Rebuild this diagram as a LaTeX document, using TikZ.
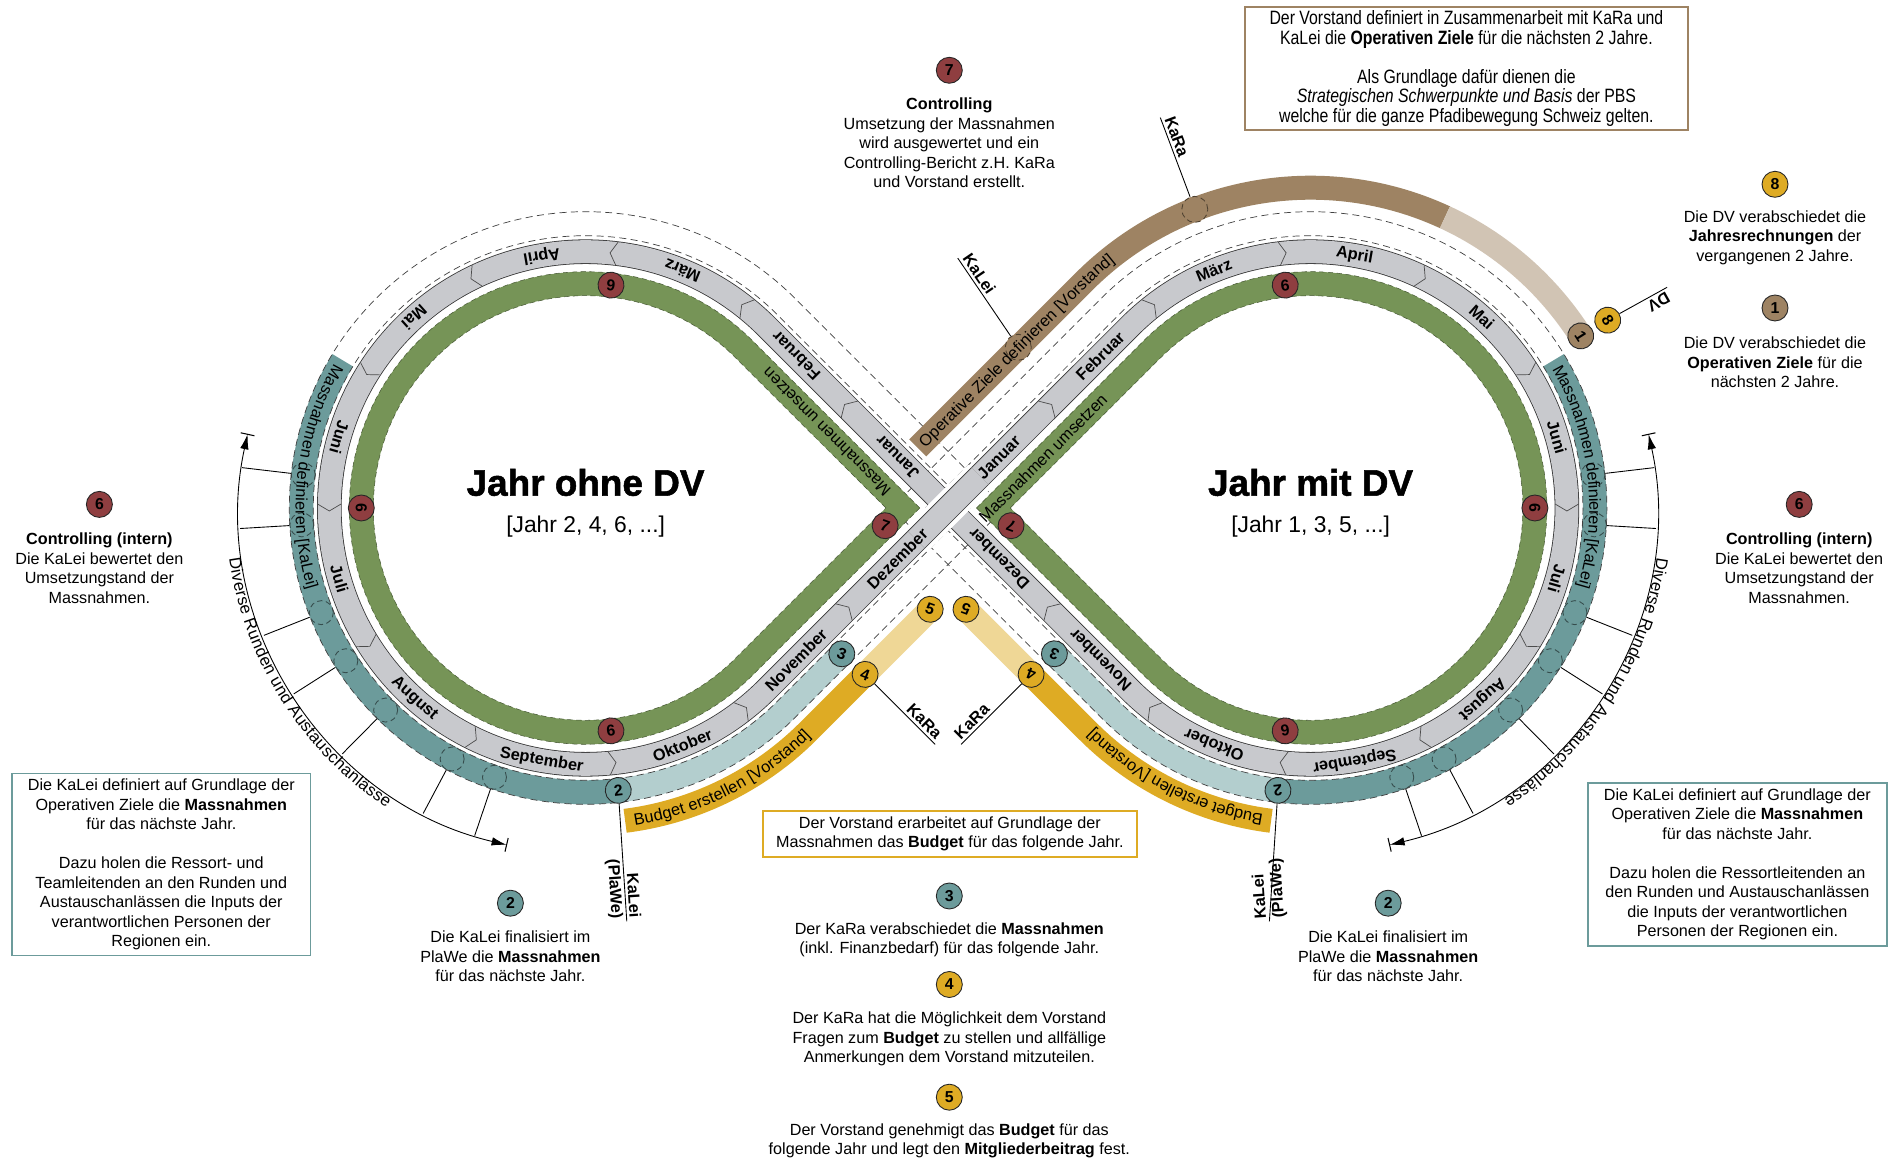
\documentclass[tikz,border=0pt]{standalone}
\usepackage{fontspec}
\setmainfont{Liberation Sans}
\newfontfamily\narrowfont[FakeStretch=0.82]{Liberation Sans}
\newfontfamily\titlefont[BoldFeatures={FakeBold=1.4}]{Liberation Sans}
\usetikzlibrary{calc,decorations.text,arrows.meta}
\definecolor{mred}{RGB}{143,62,64}
\definecolor{mgreen}{RGB}{118,148,87}
\definecolor{mgray}{RGB}{200,201,205}
\definecolor{mteal}{RGB}{108,155,155}
\definecolor{lteal}{RGB}{179,206,206}
\definecolor{mbrown}{RGB}{158,131,99}
\definecolor{lbrown}{RGB}{209,196,180}
\definecolor{myellow}{RGB}{222,171,36}
\definecolor{lyellow}{RGB}{239,215,150}
\newcommand{\bandfont}{\fontsize{9.3}{9.3}\selectfont}
\newcommand{\tearL}[2]{%
  \pgfmathsetmacro\tdR{256.3+(#1)}%
  \pgfmathsetmacro\tdV{948.1+1.414214*(#1)}%
  \draw[#2] (\tdV,652) -- ($(585.6,652)+(45:\tdR)$) arc[start angle=45,end angle=315,radius=\tdR] -- cycle;}
\newcommand{\tearR}[2]{%
  \pgfmathsetmacro\tdR{256.3+(#1)}%
  \pgfmathsetmacro\tdV{948.1-1.414214*(#1)}%
  \draw[#2] (\tdV,652) -- ($(1310.6,652)+(135:\tdR)$) arc[start angle=135,end angle=-135,radius=\tdR] -- cycle;}
\tikzset{
  band/.style={line width=0.48cm},
  grayband/.style={draw=black!80, line width=0.45pt, double=mgray, double distance=0.46cm},
  dashline/.style={draw=black!75, line width=0.4pt, dash pattern=on 4pt off 2.5pt},
  greendash/.style={draw=mgreen!60!black, line width=0.3pt, dash pattern=on 3pt off 2pt},
  mk/.style={circle, draw=black!85, line width=0.5pt, minimum size=0.52cm, inner sep=0pt, font=\fontsize{9}{9}\selectfont\bfseries},
  tcirc/.style={circle, minimum size=0.48cm, inner sep=0pt, fill=mteal, draw=black!50!mteal, line width=0.5pt, dash pattern=on 3pt off 2pt},
  bcirc/.style={circle, minimum size=0.52cm, inner sep=0pt, fill=mbrown, draw=black!50!mbrown, line width=0.5pt, dash pattern=on 3pt off 2pt},
  month/.style={font=\fontsize{9.3}{9.3}\selectfont\bfseries, inner sep=0pt},
  legend/.style={align=center, font=\fontsize{9.2}{11.1}\selectfont, inner sep=0pt},
  callout/.style={font=\fontsize{9.3}{9.3}\selectfont\bfseries, inner sep=1.5pt},
  leader/.style={draw=black, line width=0.5pt},
  chev/.style={draw=black!70, line width=0.4pt},
}
\begin{document}
\begin{tikzpicture}[x=0.02cm,y=0.02cm]
\fill[white] (0,0) rectangle (1901,1160);
\useasboundingbox (0,0) rectangle (1901,1160);
\coordinate (OL) at (585.6,652);
\coordinate (OR) at (1310.6,652);
\coordinate (X) at (948.1,652);

% ---------- Diverse Runden arcs ----------
\draw[line width=0.5pt, {Latex[length=0.3cm,width=0.17cm]}-{Latex[length=0.3cm,width=0.17cm]}]
  ($(OL)+(167.7:346)$) arc[start angle=167.7,end angle=256.8,radius=346];
\draw[line width=0.6pt] ($(OL)+(167.7:339)$) -- ($(OL)+(167.7:353)$);
\draw[line width=0.6pt] ($(OL)+(256.8:339)$) -- ($(OL)+(256.8:353)$);
\path[decorate, decoration={text along path, text={|\fontsize{9.5}{9.5}\selectfont|Diverse Runden und Austauschanlässe}, text align=center, raise=-8pt}]
  ($(OL)+(167.7:346)$) arc[start angle=167.7,end angle=256.8,radius=346];
\draw[line width=0.5pt, {Latex[length=0.3cm,width=0.17cm]}-{Latex[length=0.3cm,width=0.17cm]}]
  ($(OR)+(12.3:346)$) arc[start angle=12.3,end angle=-76.8,radius=346];
\draw[line width=0.6pt] ($(OR)+(12.3:339)$) -- ($(OR)+(12.3:353)$);
\draw[line width=0.6pt] ($(OR)+(-76.8:339)$) -- ($(OR)+(-76.8:353)$);
\path[decorate, decoration={text along path, text={|\fontsize{9.5}{9.5}\selectfont|Diverse Runden und Austauschanlässe}, text align=center, raise=2pt}]
  ($(OR)+(12.3:346)$) arc[start angle=12.3,end angle=-76.8,radius=346];

% ---------- Yellow bands ----------
\draw[band, myellow] ($(OL)+(277.2:315.3)$) arc[start angle=277.2,end angle=315,radius=315.3] -- (865.1,485.6);
\draw[band, lyellow] (865.1,485.6) -- (930.2,550.7);
\draw[band, myellow] ($(OR)+(-97.2:315.3)$) arc[start angle=-97.2,end angle=-135,radius=315.3] -- (1031.1,485.6);
\draw[band, lyellow] (1031.1,485.6) -- (966.0,550.7);

% ---------- Teal bands ----------
\draw[band, mteal] ($(OL)+(148.7:284.3)$) arc[start angle=148.7,end angle=276.6,radius=284.3];
\draw[band, lteal] ($(OL)+(276.6:284.3)$) arc[start angle=276.6,end angle=315,radius=284.3] -- (841.8,506.2);
\draw[band, mteal] ($(OR)+(31.3:284.3)$) arc[start angle=31.3,end angle=-96.6,radius=284.3];
\draw[band, lteal] ($(OR)+(-96.6:284.3)$) arc[start angle=-96.6,end angle=-135,radius=284.3] -- (1054.4,506.2);
\foreach \a [count=\i] in {173.3,183.4,201.6,212.5,225.3,242,251.3}{
  \node[tcirc] (tL\i) at ($(OL)+(\a:284.3)$) {};
  \draw[line width=0.5pt] (tL\i) -- ($(OL)+(\a:346)$);
}
\foreach \a [count=\i] in {6.7,-3.4,-21.6,-32.5,-45.3,-62,-71.3}{
  \node[tcirc] (tR\i) at ($(OR)+(\a:284.3)$) {};
  \draw[line width=0.5pt] (tR\i) -- ($(OR)+(\a:346)$);
}

% ---------- dashed outlines ----------
\tearL{16}{dashline}
\tearL{40}{dashline}
\tearR{16}{dashline}
\tearR{40}{dashline}

% ---------- Brown band ----------
\draw[band, mbrown] (917.7,712.1) -- (1084.12,878.48) arc[start angle=135,end angle=65.2,radius=320.3];
\draw[band, lbrown] ($(OR)+(65.2:320.3)$) arc[start angle=65.2,end angle=32.5,radius=320.3];
\node[bcirc] (bKaRa) at ($(OR)+(111.2:320.3)$) {};
\node[bcirc] (bKaLei) at (1018.3,812.7) {};

% ---------- Green bands ----------
\tearL{-32}{band, mgreen}
\tearR{-32}{band, mgreen}
\tearL{-20}{greendash}
\tearL{-44}{greendash}
\tearR{-20}{greendash}
\tearR{-44}{greendash}

% ---------- Gray month bands ----------
\tearL{0}{grayband}
\tearR{0}{grayband}
\draw[white, line width=0.66cm] (916.3,620.2) -- (979.9,683.8);
\draw[grayband] (916.3,620.2) -- (979.9,683.8);

% chevrons
\foreach \a in {51.8,83.85,115.9,147.96,180,212,244.1,276.15,308.2}{
  \begin{scope}[shift={($(OL)+(\a:256.3)$)},rotate=\a+90]
    \draw[chev] (-4,11.8) -- (3,0) -- (-4,-11.8);
  \end{scope}}
\foreach \a in {128.2,96.15,64.1,32.04,0,-32,-64.1,-96.15,-128.2}{
  \begin{scope}[shift={($(OR)+(\a:256.3)$)},rotate=\a-90]
    \draw[chev] (-4,11.8) -- (3,0) -- (-4,-11.8);
  \end{scope}}
\begin{scope}[shift={(846.7,753.4)},rotate=135]\draw[chev] (-4,11.8) -- (3,0) -- (-4,-11.8);\end{scope}
\begin{scope}[shift={(846.7,550.7)},rotate=45]\draw[chev] (-4,11.8) -- (3,0) -- (-4,-11.8);\end{scope}
\begin{scope}[shift={(1049.5,753.4)},rotate=45]\draw[chev] (-4,11.8) -- (3,0) -- (-4,-11.8);\end{scope}
\begin{scope}[shift={(1049.5,550.7)},rotate=135]\draw[chev] (-4,11.8) -- (3,0) -- (-4,-11.8);\end{scope}

% month labels
\node[month, rotate=135] (mLjan) at (897.4,702.7) {Januar};
\node[month, rotate=135] (mLfeb) at (796.1,804.0) {Februar};
\foreach \a/\m [count=\i] in {67.83/März,99.88/April,131.92/Mai,163.97/Juni,196.03/Juli,228.09/August,260.12/September,292.18/Oktober}
  \node[month, rotate=\a+90] (mL\i) at ($(OL)+(\a:256.3)$) {\m};
\node[month, rotate=45] (mLnov) at (796.0,500.0) {November};
\node[month, rotate=45] (mLdez) at (897.3,601.3) {Dezember};
\node[month, rotate=45] (mRjan) at (998.8,702.7) {Januar};
\node[month, rotate=45] (mRfeb) at (1100.1,804.0) {Februar};
\foreach \a/\m [count=\i] in {112.17/März,80.12/April,48.08/Mai,16.03/Juni,-16.03/Juli,-48.09/August,-80.12/September,-112.18/Oktober}
  \node[month, rotate=\a-90] (mR\i) at ($(OR)+(\a:256.3)$) {\m};
\node[month, rotate=135] (mRnov) at (1100.2,500.0) {November};
\node[month, rotate=135] (mRdez) at (998.9,601.3) {Dezember};

% band texts
\path[decorate, decoration={text along path, text={|\bandfont|Massnahmen umsetzen}, text align={left, left indent=12pt}, raise=-3.2pt}]
  (902.85,652) -- ($(OL)+(45:224.3)$);
\path[decorate, decoration={text along path, text={|\bandfont|Massnahmen umsetzen}, text align={left, left indent=2pt}, raise=-3.2pt}]
  (979.2,637.9) -- ($(OR)+(135:224.3)$);
\path[decorate, decoration={text along path, text={|\bandfont|Massnahmen definieren [KaLei]}, text align={left, left indent=4pt}, raise=-3.2pt}]
  ($(OL)+(148.7:284.3)$) arc[start angle=148.7,end angle=276.6,radius=284.3];
\path[decorate, decoration={text along path, text={|\bandfont|Massnahmen definieren [KaLei]}, text align={left, left indent=4pt}, raise=-3.2pt}]
  ($(OR)+(31.3:284.3)$) arc[start angle=31.3,end angle=-96.6,radius=284.3];
\path[decorate, decoration={text along path, text={|\bandfont|Operative Ziele definieren [Vorstand]}, text align={left, left indent=3pt}, raise=-3.2pt}]
  (917.7,712.1) -- (1084.12,878.48) arc[start angle=135,end angle=65.2,radius=320.3];
\path[decorate, decoration={text along path, text={|\bandfont|Budget erstellen [Vorstand]}, text align={left, left indent=5pt}, raise=-3.2pt}]
  ($(OL)+(277.2:315.3)$) arc[start angle=277.2,end angle=315,radius=315.3] -- (930.2,550.7);
\path[decorate, decoration={text along path, text={|\bandfont|Budget erstellen [Vorstand]}, text align={left, left indent=5pt}, raise=-3.2pt}]
  ($(OR)+(-97.2:315.3)$) arc[start angle=-97.2,end angle=-135,radius=315.3] -- (966.0,550.7);

% markers on tracks
\node[mk, fill=mred, rotate=173.5] (gL1) at ($(OL)+(83.5:224.3)$) {6};
\node[mk, fill=mred, rotate=270] (gL2) at ($(OL)+(180:224.3)$) {6};
\node[mk, fill=mred, rotate=6.5] (gL3) at ($(OL)+(276.5:224.3)$) {6};
\node[mk, fill=mred, rotate=-20] (gL7) at (885.15,634.3) {7};
\node[mk, fill=mred, rotate=6.5] (gR1) at ($(OR)+(96.5:224.3)$) {6};
\node[mk, fill=mred, rotate=-90] (gR2) at ($(OR)+(0:224.3)$) {6};
\node[mk, fill=mred, rotate=186.5] (gR3) at ($(OR)+(-96.5:224.3)$) {6};
\node[mk, fill=mred, rotate=160] (gR7) at (1011.05,634.3) {7};
\node[mk, fill=mteal, rotate=6.6] (m2L) at ($(OL)+(276.6:284.3)$) {2};
\node[mk, fill=mteal, rotate=-20] (m3L) at (841.8,506.2) {3};
\node[mk, fill=myellow, rotate=-20] (m4L) at (865.1,485.6) {4};
\node[mk, fill=myellow, rotate=-20] (m5L) at (930.2,550.7) {5};
\node[mk, fill=mteal, rotate=186.6] (m2R) at ($(OR)+(-96.6:284.3)$) {2};
\node[mk, fill=mteal, rotate=160] (m3R) at (1054.4,506.2) {3};
\node[mk, fill=myellow, rotate=160] (m4R) at (1031.1,485.6) {4};
\node[mk, fill=myellow, rotate=160] (m5R) at (966.0,550.7) {5};
\node[mk, fill=mbrown, rotate=-57.5] (m1) at ($(OR)+(32.5:320.3)$) {1};
\node[mk, fill=myellow, rotate=-57.5] (m8) at ($(OR)+(32.3:351.5)$) {8};

% leaders and callout labels
\coordinate (eDV) at (1667.1,872.7);
\draw[leader] (m8) -- (eDV);
\node[callout, rotate=209.3, anchor=south west] (lDV) at (eDV) {DV};
\coordinate (eKaRaT) at (1160.3,1042.4);
\draw[leader] (bKaRa) -- (eKaRaT);
\node[callout, rotate=-69.5, anchor=south west] (lKaRaT) at (eKaRaT) {KaRa};
\coordinate (eKaLeiT) at (957.8,901.8);
\draw[leader] (bKaLei) -- (eKaLeiT);
\node[callout, rotate=-55.8, anchor=south west] (lKaLeiT) at (eKaLeiT) {KaLei};
\coordinate (eKaRaL) at (935.1,415.6);
\draw[leader] (m4L) -- (eKaRaL);
\node[callout, rotate=-45, anchor=south east] (lKaRaL) at (eKaRaL) {KaRa};
\coordinate (eKaRaR) at (961.1,415.6);
\draw[leader] (m4R) -- (eKaRaR);
\node[callout, rotate=45, anchor=south west] (lKaRaR) at (eKaRaR) {KaRa};
\coordinate (ePlL) at (626.8,238.6);
\draw[leader] (m2L) -- (ePlL);
\node[callout, rotate=-86.3, anchor=south east] (lPlL1) at (ePlL) {KaLei};
\node[callout, rotate=-86.3, anchor=north east] (lPlL2) at (ePlL) {(PlaWe)};
\coordinate (ePlR) at (1269.4,238.6);
\draw[leader] (m2R) -- (ePlR);
\node[callout, rotate=93.7, anchor=south west] (lPlR1) at (ePlR) {KaLei};
\node[callout, rotate=93.7, anchor=north west] (lPlR2) at (ePlR) {(PlaWe)};

% titles
\node[font=\titlefont\fontsize{21}{21}\selectfont\bfseries] (titL) at (585.6,677.5) {Jahr ohne DV};
\node[font=\fontsize{13}{13}\selectfont] (subL) at (585.6,633.8) {[Jahr 2, 4, 6, ...]};
\node[font=\titlefont\fontsize{21}{21}\selectfont\bfseries] (titR) at (1310.6,677.5) {Jahr mit DV};
\node[font=\fontsize{13}{13}\selectfont] (subR) at (1310.6,633.8) {[Jahr 1, 3, 5, ...]};

% ---------- legend ----------
\node[mk, fill=mred] (l7) at (949.3,1089.7) {7};
\node[legend] (t7) at (949.3,1016.9) {\textbf{Controlling}\\Umsetzung der Massnahmen\\wird ausgewertet und ein\\Controlling-Bericht z.H. KaRa\\und Vorstand erstellt.};
\node[draw=mbrown, line width=1.1pt, minimum width=8.85cm, minimum height=2.45cm, align=center, inner sep=0pt,
      font=\narrowfont\fontsize{11}{11.1}\selectfont] (topbox) at (1466.4,1091.5)
  {Der Vorstand definiert in Zusammenarbeit mit KaRa und\\KaLei die \textbf{Operativen Ziele} für die nächsten 2 Jahre.\\[11.1pt]Als Grundlage dafür dienen die\\\textit{Strategischen Schwerpunkte und Basis} der PBS\\welche für die ganze Pfadibewegung Schweiz gelten.};
\node[mk, fill=myellow] (l8) at (1775,975.7) {8};
\node[legend] (t8) at (1775,922.4) {Die DV verabschiedet die\\\textbf{Jahresrechnungen} der\\vergangenen 2 Jahre.};
\node[mk, fill=mbrown] (l1) at (1775,852) {1};
\node[legend] (t1) at (1775,797.5) {Die DV verabschiedet die\\\textbf{Operativen Ziele} für die\\nächsten 2 Jahre.};
\node[mk, fill=mred] (l6L) at (99.4,655.6) {6};
\node[legend] (t6L) at (99.4,592) {\textbf{Controlling (intern)}\\Die KaLei bewertet den\\Umsetzungstand der\\Massnahmen.};
\node[mk, fill=mred] (l6R) at (1799.2,655.6) {6};
\node[legend] (t6R) at (1799.2,592) {\textbf{Controlling (intern)}\\Die KaLei bewertet den\\Umsetzungstand der\\Massnahmen.};
\node[legend, draw=mteal, line width=1.1pt, minimum width=5.97cm, minimum height=3.64cm] (boxL) at (161.3,295.5)
  {Die KaLei definiert auf Grundlage der\\Operativen Ziele die \textbf{Massnahmen}\\für das nächste Jahr.\\[11.1pt]Dazu holen die Ressort- und\\Teamleitenden an den Runden und\\Austauschanlässen die Inputs der\\verantwortlichen Personen der\\Regionen ein.};
\node[legend, draw=mteal, line width=1.1pt, minimum width=5.97cm, minimum height=3.25cm] (boxR) at (1737.4,295.5)
  {Die KaLei definiert auf Grundlage der\\Operativen Ziele die \textbf{Massnahmen}\\für das nächste Jahr.\\[11.1pt]Dazu holen die Ressortleitenden an\\den Runden und Austauschanlässen\\die Inputs der verantwortlichen\\Personen der Regionen ein.};
\node[mk, fill=mteal] (l2L) at (510.4,256.8) {2};
\node[legend] (t2L) at (510.4,203.4) {Die KaLei finalisiert im\\PlaWe die \textbf{Massnahmen}\\für das nächste Jahr.};
\node[mk, fill=mteal] (l2R) at (1388.2,256.8) {2};
\node[legend] (t2R) at (1388.2,203.4) {Die KaLei finalisiert im\\PlaWe die \textbf{Massnahmen}\\für das nächste Jahr.};
\node[legend, draw=myellow, line width=1.1pt, minimum width=7.49cm, minimum height=0.92cm] (boxY) at (949.9,325.9)
  {Der Vorstand erarbeitet auf Grundlage der\\Massnahmen das \textbf{Budget} für das folgende Jahr.};
\node[mk, fill=mteal] (l3) at (949.3,264) {3};
\node[legend] (t3) at (949.3,220.4) {Der KaRa verabschiedet die \textbf{Massnahmen}\\(inkl. Finanzbedarf) für das folgende Jahr.};
\node[mk, fill=myellow] (l4) at (949.3,175.5) {4};
\node[legend] (t4) at (949.3,121) {Der KaRa hat die Möglichkeit dem Vorstand\\Fragen zum \textbf{Budget} zu stellen und allfällige\\Anmerkungen dem Vorstand mitzuteilen.};
\node[mk, fill=myellow] (l5) at (949.3,62.8) {5};
\node[legend] (t5) at (949.3,19.1) {Der Vorstand genehmigt das \textbf{Budget} für das\\folgende Jahr und legt den \textbf{Mitgliederbeitrag} fest.};
\end{tikzpicture}
\end{document}
